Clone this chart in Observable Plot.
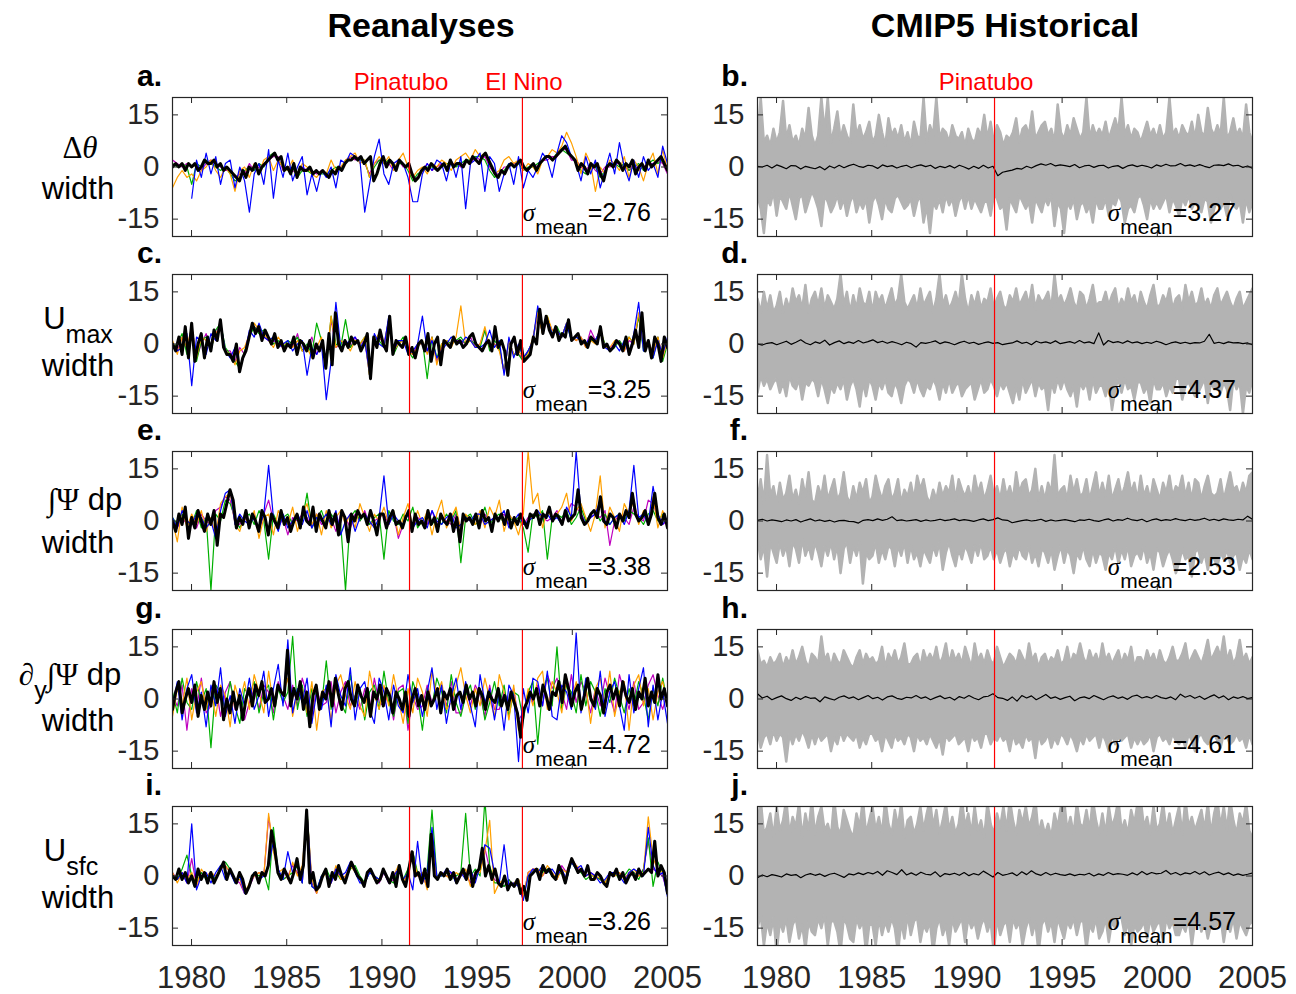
<!DOCTYPE html>
<html><head><meta charset="utf-8">
<script src="https://cdn.jsdelivr.net/npm/d3@7"></script>
<script src="https://cdn.jsdelivr.net/npm/@observablehq/plot@0.6"></script>
<style>
body{margin:0;background:#fff;font-family:"Liberation Sans",Arial,sans-serif;}
#fig{position:relative;width:1296px;height:994px;overflow:hidden;background:#fff;}
.t{position:absolute;white-space:nowrap;line-height:1;}
.serif{font-family:"Liberation Serif","DejaVu Serif",serif;}
</style></head><body><div id="fig"></div>
<script>
const YEAR0 = 1979, YEAR1 = 2005;
const xTicks = [1980,1985,1990,1995,2000,2005];
const yTicks = [-15,0,15];
const eventNamesLeft = ["Pinatubo","El Nino"];
const eventYearsLeft = [1991.45, 1997.38];
const eventNamesRight = ["Pinatubo"];
const eventYearsRight = [1991.45];
const titles = ["Reanalyses","CMIP5 Historical"];
const lettersLeft = ["a.","c.","e.","g.","i."];
const lettersRight = ["b.","d.","f.","h.","j."];
const sigmaLeft = ["2.76","3.25","3.38","4.72","3.26"];
const sigmaRight = ["3.27","4.37","2.53","4.61","4.57"];

// ---- Reanalyses (left) : black mean, 6 values / year ----
const aBlack = [0,1,0,1,-1,1, 0,1,-1,0,2,1, 1,2,0,1,-1,0, -1,-2,-3,-4,-1,-3, 0,-1,1,-2,0,1, 2,3,4,2,3,-1, 0,-2,1,-3,0,-1, -1,0,-2,-1,-2,-1, -2,-3,-1,-2,0,-1, 1,2,2,3,2,3, 1,2,3,-4,-2,1, 3,0,2,1,-1,2, 1,0,1,-2,-4,-3, -1,0,-1,1,0,-1, 0,1,-1,2,0,1, 1,0,2,1,3,2, 1,3,4,2,0,-2, -3,-1,-2,0,1,0, 1,2,0,-1,0,1, -1,1,2,3,3,2, 3,4,5,6,4,3, 2,-1,1,0,-2,1, 0,1,-2,-4,0,1, 0,2,1,-1,1,0, 2,-2,0,1,-1,2, 0,1,2,3,1,-1];
// colored reanalyses, 4 values / year
const aBlue = [null,null,null,null, -9,2,-3,4, -2,3,-5,1, 2,-6,0,-4, -13,-2,1,-5, 5,-9,2,-3, 4,-4,0,3, -8,-2,-7,-1, -3,0,-6,2, 1,4,3,2, -13,-5,3,8, -2,-5,1,2, 1,-3,-10,-10, -2,1,-1,2, 1,-4,2,-3, 3,-12,1,2, 4,-7,3,1, -7,-2,1,-5, 3,-6,-1,-3, 0,4,2,-3, 4,9,7,3, 1,-4,3,-2, 2,-6,-1,4, -2,7,0,-4, 2,-3,3,-1, 1,-3,6,1];
const aOrange = [-6,-3,-1,-3, -2,-4,-1,0, 2,-1,-3,0, -2,-7,-1,0, -3,1,-2,2, 3,-1,2,0, -1,2,-3,1, 0,-2,-3,-1, -2,2,-1,0, 2,3,4,1, 2,-3,1,3, 1,3,-1,2, 4,0,-3,-1, 0,-2,1,0, 2,1,-1,2, 3,4,2,5, 3,4,1,-2, -1,2,3,1, 2,-1,1,0, -2,2,3,5, 4,6,10,7, 3,-2,4,1, -7,0,-2,2, 1,-1,3,-3, 2,0,-4,1, 4,-2,5,-1];
const aGreen = [1,0,1,0, -5,1,0,2, 1,0,-1,0, -2,-4,-3,-1, 0,-1,1,0, 3,4,2,0, -1,0,-3,-1, -1,-2,-1,-2, -2,-1,0,-1, 2,2,3,2, 2,-3,0,2, 1,2,0,1, 1,-1,-4,-2, -1,0,0,-1, 0,1,1,0, 1,2,2,3, 3,2,-1,-3, -2,-1,1,0, 1,-1,0,0, 1,2,3,2, 4,5,4,3, 1,-1,-2,0, 0,-3,-1,1, 1,0,1,-1, 0,1,-1,1, 2,1,2,-1];
const aMagenta = [2,1,0,1, 0,1,-1,1, 2,1,0,-1, -1,-3,-2,-2, 1,-1,0,1, 2,3,3,-1, 0,-1,-2,0, -1,-1,-2,-1, -2,-2,-1,0, 1,3,2,3, 1,-2,1,2, 2,1,-1,2, 0,0,-3,-3, -1,1,-1,0, 1,0,1,1, 0,2,1,3, 2,3,0,-2, -2,0,0,1, 1,0,-1,1, 0,2,2,3, 3,5,5,2, 2,0,-1,1, -1,-2,0,0, 1,1,0,-1, 1,-1,0,1, 1,2,1,-2];

const cBlack = [0,-2,2,-3,5,-4, 6,-5,0,3,-4,2, -2,4,1,7,-1,-3, -3,-5,0,-8,-4,-2, 2,6,3,5,1,4, 2,0,3,-1,1,-2, 0,-1,2,-3,1,0, -2,1,-4,0,-2,1, -7,3,-6,9,0,-2, 1,-1,2,0,1,-2, 0,3,-10,2,-1,4, 0,-2,8,-3,1,0, -1,2,-3,-1,-4,0, 1,-2,3,-5,0,2, -6,1,0,-1,2,0, 1,-1,0,2,3,0, -1,-2,0,1,-2,5, -1,1,-2,-9,0,2, -3,1,-5,-4,-3,2, 0,10,3,8,4,2, 5,1,3,2,7,1, 2,3,0,1,-1,2, 1,0,5,-1,0,-2, -1,1,0,-2,2,-3, 0,4,-1,9,-2,1, -4,2,0,-5,2,-1];
const cBlue = [0,-2,-1,3, -12,2,1,-3, 3,1,6,-2, -4,-1,-7,-3, 4,2,6,2, 1,2,-1,0, 1,-2,0,1, -9,-1,-3,0, -16,-5,12,-1, 0,1,2,-1, 1,-8,3,0, -1,8,-2,1, 1,-3,-2,0, 8,-2,1,-4, -2,0,2,1, 0,2,1,-1, -1,0,4,-1, 1,-9,2,-4, 0,-4,-2,1, 11,4,7,3, 4,2,6,1, 2,1,0,2, 1,4,-1,-2, 0,-2,1,-3, 3,12,-2,0, -4,1,-3,2];
const cOrange = [1,-3,2,-1, 5,-4,2,1, -1,3,5,-2, -3,-6,-2,-1, 3,6,4,3, 1,-1,2,0, 0,-1,1,-2, -1,-4,-1,2, -6,8,-1,1, 0,-2,1,0, 2,-9,1,3, -1,7,-2,0, 1,-2,-3,-1, 1,-3,2,-6, 0,1,-1,2, 11,0,1,-1, 0,5,-1,0, -2,-8,1,-3, -2,-4,-3,2, 9,3,8,4, 4,2,6,2, 1,2,-1,1, 0,5,-1,-1, 1,0,-2,2, 0,9,-1,1, -3,2,-4,1];
const cGreen = [-1,0,3,-3, 4,-5,1,2, -2,4,6,-1, -3,-5,-7,-2, 2,5,3,4, 2,0,1,-1, 1,0,2,-2, 0,-3,6,1, -7,8,0,-1, 7,-1,1,0, 2,-9,2,1, -1,7,-3,0, 2,-2,-4,-1, 1,-10,2,-4, 0,1,0,1, 2,0,1,0, -1,4,-2,1, -1,-8,1,-3, -3,-5,-2,1, 10,3,8,3, 5,2,6,1, 2,1,0,1, 1,4,0,-2, -1,1,-1,2, 0,8,-2,1, -4,2,-5,0];
const cMagenta = [0,-2,2,-2, 5,-4,0,3, -1,3,6,-2, -2,-5,-1,-3, 3,5,4,2, 1,1,0,-1, 0,-1,3,-2, -1,2,-3,0, -6,7,-1,0, 1,-1,2,0, 1,-9,1,2, 0,7,-2,1, 1,-2,-3,0, 0,-2,2,-5, -1,1,0,1, 1,0,2,-1, 0,4,-1,0, -1,-8,1,-3, -3,-4,-2,1, 9,3,7,4, 4,2,6,2, 1,2,-1,4, 1,4,-1,-1, 0,1,-2,1, 0,8,-1,1, -3,2,-4,1];

const eBlack = [0,-3,2,-1,4,-5, 1,-2,3,0,-3,2, -1,3,-7,2,1,5, 9,6,-2,1,-1,3, -2,2,0,-3,3,1, -4,2,0,-2,3,-1, 1,-3,0,2,-2,4, 0,-1,4,-3,2,0, -2,3,-1,2,-4,3, 1,-6,2,0,3,1, 2,-1,3,0,-4,2, 2,-2,1,3,-1,0, -2,1,3,-3,2,-1, 0,-2,3,-1,1,-3, 2,0,-1,2,-3,1, -6,2,0,1,-1,2, -2,3,0,1,-3,2, 0,2,-1,3,-2,1, -1,2,0,-2,2,1, 3,-1,2,1,4,0, 2,1,-1,3,0,1, 2,9,1,-1,0,2, 3,1,7,0,-1,2, 1,-2,2,0,3,1, 8,2,0,1,3,-1, 2,8,1,-1,2,-2];
const eBlue = [1,-2,3,0, -1,2,1,-2, 0,-5,3,8, 9,-1,2,0, -1,1,-2,2, 16,1,-3,2, -2,0,2,-1, 3,-2,1,0, 2,-1,3,-4, 0,2,-3,1, 2,0,-2,1, 13,-1,2,0, -1,2,-2,0, 1,-2,3,0, -1,1,2,-2, -1,1,0,2, 2,-1,0,1, 1,3,-2,0, 2,-1,0,1, 3,1,2,0, 1,-1,4,1, 20,2,-1,1, 2,6,0,-1, 1,2,-1,3, 16,1,2,-1, 10,2,-1,1];
const eOrange = [0,-6,4,-2, 2,-1,3,-3, 1,-4,5,7, 8,-1,-3,2, -2,3,-5,1, 2,-4,3,0, -1,4,-3,2, 5,-1,2,-4, 3,-2,1,3, -1,2,-2,5, 1,-3,2,0, 4,-1,3,-4, 1,5,-2,3, -1,3,-4,2, 6,-2,1,4, -3,2,0,-1, 3,-2,4,1, 6,-3,2,0, -4,2,20,5, 8,-2,3,1, 2,4,8,0, 3,5,1,-3, 2,13,-2,4, 1,-3,5,2, 6,-1,3,0, 7,-2,3,-1];
const eGreen = [1,-1,2,0, -1,3,-2,1, -20,2,0,6, 5,1,-2,1, 2,-1,3,0, -11,2,-1,1, 2,-1,1,0, 8,-2,1,3, -1,2,0,-1, -20,1,3,0, 2,-1,1,2, -11,3,0,-1, 2,0,4,-2, 0,2,-1,1, -1,2,0,3, -12,1,2,-1, 0,4,-1,1, 2,-1,1,0, 1,-2,-9,2, 1,3,-11,1, 2,1,3,-1, 1,4,0,2, 3,0,2,-1, 1,2,0,3, 2,1,-1,2, 3,0,2,-1];
const eMagenta = [0,-2,1,-1, 1,-2,2,0, -1,3,4,7, 6,0,-1,1, -1,2,-3,2, 6,0,-2,1, -4,1,0,2, 1,-2,2,-1, 0,1,-3,2, 1,-2,2,0, 3,-1,0,1, 2,-1,2,-5, -1,2,-2,1, 0,-1,3,-1, 1,0,-1,2, -2,1,0,1, -1,2,0,1, 1,2,-1,0, 0,-1,1,2, 2,1,0,1, 3,-1,2,5, 4,2,0,1, 2,1,3,-7, 0,2,1,-1, 4,1,0,6, 5,1,-1,0];

const gBlack = [-3,2,5,-4,0,3, -1,4,-5,1,-3,2, -2,5,-1,3,-6,0, -4,2,-3,1,-6,0, 3,-2,4,1,5,-1, 0,3,-2,4,2,1, 14,-2,3,0,5,-3, 2,-8,1,4,-3,2, 0,5,-2,6,1,-3, 3,5,0,-2,4,1, -1,3,-5,2,0,4, -2,3,1,-4,2,0, -3,2,-5,0,3,-2, 1,-3,2,-2,0,3, -4,2,0,3,-3,1, 2,-1,4,0,2,-2, 3,1,-3,2,0,-1, 3,-2,1,-3,2,-1, -4,-11,-3,-1,2,0, 3,-2,4,1,-3,2, 1,5,-1,7,3,-2, 2,4,-3,1,6,0, -2,3,1,-4,2,4, 0,3,-2,5,1,-1, 3,-3,2,0,6,-2, 2,-1,7,0,3,-2];
const gBlue = [-2,5,-6,3, 7,-4,2,-8, 4,-2,9,-5, 1,-7,3,-2, 6,-3,1,8, -5,3,10,-2, 17,-4,3,-1, 6,-7,2,-3, 4,-8,7,1, -2,9,-6,3, 5,-3,-7,6, 2,-6,4,-2, -4,7,-1,3, -5,2,9,-3, 4,-7,1,6, -3,5,-2,-8, 7,-1,3,-6, 2,-9,4,1, -18,3,-4,6, 5,-2,8,-5, -6,4,2,-3, 19,-4,6,1, -3,8,-5,2, 5,-2,-9,7, -4,3,9,-8, 4,-6,2,-7];
const gOrange = [-5,3,-2,6, -6,2,5,-3, 3,-5,4,1, -8,4,-1,5, -3,7,2,-4, 8,-2,4,1, 6,-5,2,3, -4,5,-9,2, 3,-6,4,7, 1,-3,5,-2, -5,8,1,-3, 4,-2,7,0, -7,3,-4,6, 2,-5,8,1, 5,-3,-1,4, 9,1,-4,3, -2,6,0,-5, 7,2,-6,4, -9,-5,3,-2, 6,8,-3,5, 2,-4,6,-1, 5,-3,4,-7, 3,6,-2,8, -5,2,5,-9, 4,7,-2,3, -6,2,5,-1];
const gGreen = [2,-4,6,-1, -3,5,-1,3, -14,4,2,-3, 5,-2,-7,3, 1,5,-4,2, 4,-6,3,-1, 2,18,-3,4, -5,3,1,-2, 11,-3,5,-1, -4,7,-2,3, -6,2,4,-3, 8,-1,-5,2, 3,-7,5,1, -9,3,-2,6, 2,-4,7,-1, -5,1,4,-3, 3,-6,-1,5, -2,4,-5,2, 1,-6,2,5, -13,3,6,-2, 15,-3,4,2, -4,7,-2,5, 2,-5,3,-1, 6,1,-4,3, -2,5,1,-6, 3,-2,6,-1];
const gMagenta = [1,-2,4,-9, 3,-3,6,-4, -2,4,-5,2, 5,-3,1,-6, -1,3,-3,4, 2,-4,5,1, -3,4,-2,6, 1,-5,3,-2, -1,5,-4,2, 5,-2,1,-3, 3,-4,6,-1, -2,2,-6,3, 4,-9,1,-3, -2,4,-1,3, 3,-2,5,-4, -4,3,-2,4, 1,-5,4,-3, -3,2,-1,3, -6,-4,2,-1, 4,-2,7,3, 6,2,-3,7, -1,5,2,-4, 3,-2,6,1, -4,7,2,-3, 5,-3,-1,4, 7,1,-3,2];

const iBlack = [0,-1,2,-1,1,-2, 0,-3,2,-1,1,-2, 1,-2,0,2,4,-1, 2,0,-2,1,-1,-5, -3,0,1,-2,1,0, 3,13,8,1,-1,2, 0,-2,1,5,-1,3, 19,-2,1,-4,-3,0, 2,-3,1,-1,3,0, -2,1,4,2,0,-1, -3,1,2,0,-2,-1, 2,0,-2,1,-3,3, -1,-3,2,7,0,1, -2,2,-3,12,0,-1, 1,0,2,-1,1,-2, 0,2,-1,3,-3,1, 2,8,0,3,-1,2, -2,-3,0,-4,-2,-3, -1,-5,-3,-7,0,1, 2,-1,3,1,2,0, -1,3,1,-2,2,5, 3,1,2,0,3,-1, -1,1,0,-2,-3,1, 0,2,-1,1,-2,0, 1,-1,2,0,1,2, 1,10,0,3,1,-5];
const iBlue = [0,-1,1,-2, 15,-4,0,1, -2,1,3,-1, 1,-2,0,-5, -3,1,-1,0, 3,10,2,-1, 7,1,4,-2, 18,-3,-4,0, 1,-2,2,0, 1,4,1,-2, -2,1,0,-1, 1,-2,0,2, -1,1,-4,10, -2,1,14,0, 0,2,1,-2, 1,-1,2,-2, 3,9,8,1, -2,9,-3,-2, -3,-7,0,2, 1,3,1,2, 0,2,-1,4, 2,3,0,1, 0,-2,-1,1, 1,0,-2,1, 2,1,0,14, 3,0,1,-6];
const iOrange = [1,-2,1,-1, 1,-3,2,0, 1,0,2,3, 1,-1,-1,-5, -2,0,1,0, 18,7,1,2, -1,4,0,3, 18,-1,-5,-1, 1,-2,3,-1, 0,3,1,-1, -2,2,-1,-1, 1,-2,0,3, -2,1,6,0, 1,-4,11,-1, 1,0,-1,1, 0,2,-3,1, 1,7,16,-5, -2,-1,-3,-2, -1,-6,1,2, 2,0,3,1, -1,2,1,5, 3,2,0,1, -1,0,-2,1, 0,1,-1,1, 2,0,1,17, 5,2,1,-5];
const iGreen = [0,-1,2,6, 0,-2,1,-1, 1,-1,3,4, 2,-2,0,-4, -3,1,0,1, -4,14,1,-1, 0,1,3,-2, 19,-3,-4,0, 2,-1,1,-1, -1,2,3,0, -2,1,0,-1, 1,-1,-2,2, -1,2,7,1, 0,2,19,0, 0,1,-1,0, 1,18,0,2, 0,22,3,-2, -2,-3,-1,-3, -1,-6,0,1, 2,1,2,0, 0,1,-1,4, 2,1,-1,0, 0,-1,-2,1, 1,-1,0,2, 1,-1,2,11, -3,4,1,-4];
const iMagenta = [1,-1,1,-2, 5,-3,1,0, 1,-1,2,3, 1,-1,-2,-5, -3,0,1,0, 17,8,1,-1, 0,3,1,-2, 18,-2,-5,0, 1,-2,2,-1, 0,3,2,-1, -2,1,0,-2, 1,-2,-1,2, -1,1,7,0, 0,-3,12,-1, 1,0,1,-1, 0,1,-2,1, 2,8,2,-1, -2,-3,-1,-3, -1,-6,1,2, 2,0,2,1, -1,3,1,5, 3,1,0,1, 0,-1,-2,1, 0,1,-1,1, 1,0,2,10, 2,1,0,-5];

// ---- CMIP5 (right): model spread upper / lower edge (6 / year), multi-model mean (4 / year) ----
const bHi = [8,20,7,9,6,11, 7,10,19,8,12,7, 9,6,11,8,17,9, 6,9,20,10,20,7, 11,16,8,12,9,7, 18,9,12,8,10,13, 7,9,15,10,6,14, 9,11,8,12,7,10, 6,13,9,8,20,7, 12,9,20,8,11,10, 7,12,9,8,10,6, 11,8,7,11,9,15, 8,13,7,12,10,6, 9,8,10,14,7,11, 12,9,16,8,10,12, 13,9,11,7,18,10, 8,12,9,14,11,8, 10,20,8,12,9,11, 9,13,8,11,14,10, 20,9,12,8,11,10, 7,10,13,9,11,8, 12,8,10,20,9,11, 8,12,10,9,13,8, 15,10,9,17,11,9, 12,9,20,8,10,14, 9,11,8,18,10,7];
const bLo = [-8,-12,-19,-9,-11,-7, -14,-8,-10,-12,-7,-11, -15,-9,-8,-13,-10,-7, -9,-12,-17,-8,-10,-13, -11,-8,-12,-9,-14,-10, -8,-13,-10,-12,-9,-16, -10,-8,-11,-15,-9,-12, -13,-9,-8,-10,-12,-11, -9,-14,-10,-8,-16,-11, -19,-10,-12,-9,-13,-8, -11,-9,-14,-10,-8,-12, -8,-12,-9,-11,-13,-10, -10,-14,-8,-9,-12,-11, -18,-9,-11,-13,-8,-10, -12,-10,-16,-9,-11,-13, -9,-11,-8,-17,-10,-12, -19,-10,-12,-9,-15,-11, -10,-13,-11,-16,-9,-12, -12,-9,-14,-10,-11,-8, -10,-16,-12,-11,-13,-9, -8,-11,-15,-9,-12,-10, -12,-10,-8,-13,-9,-11, -14,-9,-11,-8,-12,-10, -11,-13,-9,-10,-16,-12, -9,-12,-10,-14,-8,-11, -12,-10,-16,-9,-13,-10];
const bMean = [0.2,0,0.5,-0.3, 0.6,0.1,-0.5,0.4, 0.3,-0.6,0.2,-0.2, -0.5,0.1,-0.8,0.3, -0.3,0.5,-0.2,0.4, 0.8,0.2,-0.1,0.5, 0.3,-0.4,0.6,0.1, 0.4,-0.3,0.2,0.5, -0.2,0.3,0.6,0.1, 0.5,-0.4,0.2,-0.2, 0.4,-0.3,0.5,0, -0.6,0.2,-0.4,0.5, -0.3,0.2,-2.5,-1.5, -1.2,-0.9,-0.4,-0.6, 0.2,-0.3,0.4,0.9, 0.5,1,0.3,0.6, 0.4,0.1,0.7,-0.2, 0.3,0.5,-0.1,0.4, 0.5,-0.3,0.2,0.4, -0.4,0.3,0.6,0.1, 0.5,0.2,-0.3,0.6, 0.2,0.8,0.3,0.4, 1,0.3,0.6,0.2, 0.7,0.2,-0.2,0.5, 0.6,0.4,0.9,0.3, 0.5,-0.1,0.3,-0.4];

const dHi = [13,9,15,10,14,9, 11,15,9,13,10,16, 12,14,10,17,9,13, 15,11,16,10,14,12, 10,13,20,11,15,9, 14,10,16,12,11,15, 9,15,12,14,10,13, 16,11,13,20,12,10, 12,14,10,16,11,13, 15,9,13,20,11,14, 10,12,15,11,20,13, 9,14,11,15,10,13, 12,16,10,13,15,11, 10,14,12,16,11,13, 15,11,17,10,14,12, 13,15,10,20,12,14, 11,13,16,12,10,15, 14,10,13,17,11,12, 12,15,11,14,16,10, 13,11,16,12,14,10, 15,12,10,14,17,11, 11,14,12,16,10,13, 14,10,17,12,15,11, 12,16,11,13,10,14, 16,11,13,15,12,10, 13,15,10,12,14,16];
const dLo = [-14,-9,-12,-10,-13,-11, -10,-14,-11,-15,-9,-12, -13,-10,-16,-11,-12,-10, -11,-15,-10,-13,-17,-12, -14,-11,-13,-10,-16,-12, -10,-13,-18,-11,-15,-10, -12,-16,-11,-13,-10,-14, -15,-11,-13,-17,-12,-10, -11,-14,-10,-13,-15,-12, -13,-10,-12,-16,-11,-14, -10,-14,-12,-11,-15,-13, -12,-11,-16,-13,-10,-14, -13,-10,-12,-15,-11,-13, -11,-14,-17,-12,-16,-10, -14,-12,-10,-15,-11,-13, -12,-19,-11,-14,-10,-13, -10,-13,-15,-12,-18,-11, -13,-11,-16,-10,-14,-12, -12,-15,-11,-19,-13,-10, -14,-10,-13,-12,-16,-11, -11,-14,-12,-17,-10,-13, -13,-11,-15,-12,-14,-10, -10,-16,-12,-11,-13,-15, -14,-12,-10,-17,-11,-13, -12,-14,-11,-13,-19,-10, -13,-11,-20,-12,-14,-10];
const dMean = [0,-0.3,0.2,0.4, -0.2,0.3,0.8,-0.1, 0.5,1.2,0.3,-0.2, 0.6,0.2,1.1,-0.3, 0.4,0.9,0.1,0.6, 0.2,1,0.3,0.7, 1.2,0.4,0.8,0.2, 0.7,0.3,-0.2,0.5, 0.1,-0.9,0.4,0.2, 0.5,0.9,0.1,0.6, 0.3,-0.2,0.4,0.8, 0.2,0.5,-0.1,0.3, 0.6,0.2,0.4,-0.2, 0.1,0.3,0.9,0.2, 0.5,-0.2,0.8,0.3, 0.6,0.2,0.9,0.1, 0.4,0.7,0.2,1, 0.3,0.6,0.1,3.2, -0.3,1,0.4,0.7, 0.2,0.9,0.3,0.6, 0.1,0.5,0.2,0.8, 0.4,-0.2,0.3,0.6, 0.2,0.5,0.1,0.4, 0.3,0.8,2.8,0.2, 0.5,0.1,0.6,0.3, 0.4,0.1,0.3,-0.2];

const fHi = [6,12,5,19,7,10, 5,11,6,8,13,6, 9,5,12,7,14,6, 5,10,7,13,6,9, 12,6,8,14,7,5, 10,6,11,8,12,5, 7,13,9,6,10,12, 6,8,12,5,9,7, 11,6,13,9,12,7, 5,9,6,11,7,10, 8,13,6,12,9,7, 10,6,13,8,11,6, 9,13,7,10,6,12, 7,10,6,14,8,11, 12,7,9,15,6,10, 6,11,8,19,7,9, 10,6,13,8,12,7, 8,12,6,10,14,7, 11,7,13,6,9,12, 7,10,14,8,11,6, 13,7,10,6,12,9, 6,11,8,13,7,10, 9,13,7,11,6,12, 11,6,10,13,8,7, 8,12,6,10,14,9, 10,7,11,8,13,14];
const fLo = [-5,-11,-7,-16,-6,-9, -12,-6,-10,-7,-13,-6, -8,-12,-5,-10,-7,-11, -6,-9,-13,-7,-10,-6, -11,-7,-15,-8,-6,-12, -7,-10,-6,-18,-9,-11, -10,-6,-12,-8,-11,-7, -8,-13,-7,-10,-6,-12, -7,-11,-9,-13,-8,-10, -12,-7,-10,-6,-14,-9, -6,-10,-13,-8,-11,-7, -9,-12,-7,-10,-6,-11, -10,-7,-11,-8,-12,-9, -8,-13,-9,-11,-7,-10, -11,-7,-12,-9,-13,-8, -9,-12,-8,-14,-10,-7, -12,-8,-10,-15,-9,-11, -7,-11,-13,-8,-12,-9, -10,-14,-9,-11,-7,-12, -8,-11,-7,-13,-10,-9, -11,-7,-12,-9,-14,-8, -9,-13,-10,-8,-11,-15, -12,-8,-11,-10,-16,-9, -8,-12,-9,-14,-10,-11, -13,-9,-11,-8,-12,-10, -9,-14,-10,-12,-8,-11];
const fMean = [0.2,0.5,0,0.3, 0.1,-0.2,0.3,0, 0.4,-0.3,0.2,0.6, 0,0.3,-0.1,0.2, -0.3,0.1,0.2,-0.1, -0.2,-0.6,0.2,0.4, 0.1,0.6,0.2,0.5, 1.2,0.1,0.3,0, 0.2,0.4,-0.1,0.3, 0,0.2,0.5,0.1, 0.3,0.6,0.1,0.4, 0.2,-0.1,0.3,0.6, 0.1,0.4,0.9,0.3, 0.2,-0.5,-0.2,0.1, 0.3,0,0.2,0.5, -0.1,0.3,0,0.2, 0.4,0.1,-0.2,0.3, 0.2,0.5,0.1,-0.1, 0.3,0.6,0,0.4, 0.2,0.8,0.3,0.1, 0.5,-0.2,0.3,0.6, 0.1,0.4,0.2,0.7, 0.3,0.1,0.5,0.2, 0.4,0.8,0.2,0.5, 0.1,0.6,0.3,0.2, 0.5,0.3,1.4,0.5];

const hHi = [14,10,11,9,12,10, 11,13,9,12,10,14, 10,12,15,11,9,13, 12,10,18,11,13,9, 13,11,10,14,12,10, 9,12,14,10,13,11, 12,10,11,15,9,13, 11,14,10,12,16,10, 10,12,13,9,14,11, 13,11,15,10,12,16, 10,14,11,13,10,15, 12,9,16,11,13,10, 14,11,10,15,12,9, 11,13,12,10,14,12, 10,16,11,13,9,12, 13,10,12,11,14,10, 11,15,10,13,12,16, 12,10,14,11,13,10, 16,11,13,10,12,14, 10,13,11,15,9,12, 12,10,14,11,13,10, 14,11,10,12,15,11, 11,13,16,10,12,14, 12,10,13,17,11,13, 15,12,18,11,14,10, 12,17,11,13,10,12];
const hLo = [-9,-14,-11,-10,-13,-9, -12,-10,-11,-18,-10,-13, -10,-12,-9,-11,-14,-10, -13,-10,-12,-11,-10,-15, -11,-13,-9,-12,-10,-11, -12,-10,-14,-11,-13,-10, -10,-12,-11,-15,-10,-12, -14,-10,-12,-11,-13,-10, -11,-15,-10,-12,-11,-13, -10,-12,-14,-11,-16,-10, -12,-11,-10,-13,-12,-11, -15,-10,-12,-11,-14,-10, -10,-13,-11,-12,-10,-12, -11,-15,-10,-13,-12,-14, -10,-12,-11,-17,-10,-13, -12,-10,-14,-11,-13,-10, -11,-13,-10,-12,-15,-11, -13,-10,-12,-11,-10,-14, -10,-12,-15,-10,-13,-11, -12,-11,-10,-14,-11,-13, -11,-13,-12,-10,-15,-11, -10,-12,-11,-13,-10,-12, -13,-11,-14,-10,-12,-15, -11,-10,-12,-13,-11,-10, -12,-14,-10,-11,-13,-12, -10,-12,-11,-14,-10,-13];
const hMean = [1.5,0.3,0.8,-0.2, 0.4,0.9,0.1,-0.4, 0.5,-0.1,0.7,0.2, 0.3,-0.8,0.6,0.1, -0.3,0.5,0.9,0.2, 0.6,-0.2,0.4,1, 0.1,0.5,-0.3,0.6, 0.9,0.2,-0.1,0.5, 0.3,1,0.2,0.6, -0.2,0.4,0.9,0.1, 0.5,-0.3,0.7,0.2, 1,0.3,-0.2,0.6, 0.8,1.5,0.4,0.2, -0.4,0.6,-0.6,1, 0.3,0.9,-0.2,0.5, 1.3,0.2,0.6,-0.1, 0.4,0.8,-0.5,0.3, 0.6,0.1,1,0.4, -0.2,0.5,0.9,0.2, 0.6,-0.1,0.8,1.1, 0.3,0.7,0.2,1, 0.4,0.1,0.6,-0.2, 1.4,0.5,1,0.2, 0.8,-0.1,0.6,1.2, 0.3,0.9,-0.2,0.6, 0.2,0.7,0.1,0.4];

const jHi = [15,22,12,14,18,11, 20,13,16,22,12,17, 14,21,11,18,13,22, 12,17,20,13,15,11, 22,14,12,19,16,13, 11,18,14,22,12,16, 20,13,17,12,22,15, 12,19,14,21,11,16, 17,12,15,20,13,18, 22,14,19,12,16,21, 13,17,12,15,22,14, 18,12,20,13,16,11, 21,15,12,18,14,20, 13,22,16,12,19,15, 20,14,17,22,12,16, 12,15,11,18,14,20, 22,13,17,12,21,15, 14,19,13,22,16,12, 18,12,20,14,17,22, 13,16,12,19,15,21, 22,14,17,12,20,13, 15,21,13,18,12,16, 20,12,22,14,17,13, 16,19,13,21,12,18, 22,14,20,13,22,16, 12,18,15,21,13,11];
const jLo = [-15,-11,-20,-13,-17,-12, -22,-13,-16,-12,-19,-14, -12,-18,-14,-21,-13,-16, -17,-12,-15,-11,-20,-13, -13,-16,-22,-12,-14,-18, -19,-12,-15,-13,-22,-14, -14,-20,-12,-17,-13,-16, -12,-15,-22,-13,-18,-11, -17,-13,-12,-19,-14,-16, -13,-22,-15,-12,-17,-14, -20,-12,-16,-14,-12,-19, -12,-15,-13,-18,-14,-12, -16,-13,-22,-12,-17,-14, -13,-19,-12,-15,-13,-20, -15,-12,-17,-13,-22,-14, -12,-16,-13,-19,-12,-15, -18,-13,-15,-12,-17,-13, -13,-21,-14,-16,-12,-18, -16,-12,-19,-13,-15,-12, -12,-17,-13,-20,-14,-16, -15,-13,-18,-12,-16,-14, -13,-19,-12,-15,-13,-17, -17,-14,-16,-12,-20,-13, -12,-16,-13,-18,-14,-15, -14,-12,-19,-13,-16,-12, -18,-13,-15,-17,-14,-13];
const jMean = [-0.5,0.3,-0.2,0.4, 0.1,-0.3,0.6,0.2, 0.4,-0.5,0.3,0.7, 0.2,0.6,-0.1,0.5, 0.8,0.2,-0.4,0.6, 0.3,0.9,0.4,1, 0.6,1.3,0.2,1.5, 1,0.4,1.8,0.3, 0.9,0.2,1.1,0.5, 0.3,1.2,-0.2,0.7, 0.4,0.8,0.2,1, 0.1,0.7,0.3,1.4, 0.6,-0.3,1,0.2, 0.5,0.9,0.1,1.2, 0.4,1.5,0.6,0.2, 1,0.3,0.8,0.4, 0.2,0.6,0.1,0.5, 0.3,0.8,0,0.6, 0.2,1,0.4,0.7, 0.5,0.2,0.9,0.3, 1.3,0.4,1,0.6, 0.8,1.6,0.5,1, 0.3,0.9,0.6,1.3, 0.5,1.2,0.3,0.8, 1.1,0.4,0.9,0.2, 0.6,0.2,0.5,0.9];

// ---------- styling / layout ----------
const COL = {magenta:"#bf00bf", green:"#00b000", orange:"#ffa000", blue:"#0000ff", black:"#000000", grey:"#b3b3b3", red:"#ff0000", axis:"#262626"};
const FW = 495, FH = 139;
const frameTops = [97, 274, 451, 629, 806];
const frameLeftL = 172, frameLeftR = 757;
const ML = 60, MR = 8, MT = 4;

const fig = document.getElementById("fig");
function addText(html, css) {
  const d = document.createElement("div");
  d.className = "t";
  d.innerHTML = html;
  Object.assign(d.style, css);
  fig.appendChild(d);
  return d;
}
function rows(arr) {
  const n = arr.length;
  return arr.map((v, i) => ({x: YEAR0 + i * (YEAR1 - YEAR0) / (n - 1), y: v}));
}
function bandRows(hi, lo) {
  const n = hi.length;
  return hi.map((v, i) => ({x: YEAR0 + i * (YEAR1 - YEAR0) / (n - 1), hi: v, lo: lo[i]}));
}

function panel({left, top, bottom, colored, black, blackWidth, band, events}) {
  const MB = bottom ? 47 : 4;
  const marks = [];
  if (band) {
    const br = bandRows(band[0], band[1]);
    marks.push(Plot.areaY(br, {x: "x", y1: "lo", y2: "hi", fill: COL.grey, clip: true}));
    marks.push(Plot.lineY(br, {x: "x", y: "hi", stroke: COL.grey, strokeWidth: 2.5, clip: true}));
    marks.push(Plot.lineY(br, {x: "x", y: "lo", stroke: COL.grey, strokeWidth: 2.5, clip: true}));
  }
  for (const [data, color] of colored) {
    marks.push(Plot.lineY(rows(data), {x: "x", y: "y", stroke: color, strokeWidth: 1.2, clip: true}));
  }
  marks.push(Plot.lineY(rows(black), {x: "x", y: "y", stroke: COL.black, strokeWidth: blackWidth, strokeLinejoin: "round", clip: true}));
  marks.push(Plot.ruleX(events, {x: d => d, stroke: COL.red, strokeWidth: 1.2}));
  marks.push(Plot.frame({stroke: COL.axis, strokeWidth: 1.2}));
  marks.push(Plot.tickY(yTicks, {y: d => d, stroke: COL.axis, insetRight: FW - 6}));
  marks.push(Plot.tickY(yTicks, {y: d => d, stroke: COL.axis, insetLeft: FW - 6}));
  marks.push(Plot.tickX(xTicks, {x: d => d, stroke: COL.axis, insetTop: FH - 6}));
  marks.push(Plot.tickX(xTicks, {x: d => d, stroke: COL.axis, insetBottom: FH - 6}));
  marks.push(Plot.axisY(yTicks, {tickSize: 0, tickPadding: 13, fontSize: 29, fill: COL.axis, tickFormat: d => String(d), label: null}));
  if (bottom) marks.push(Plot.axisX(xTicks, {tickSize: 0, tickPadding: 20, fontSize: 31, fill: COL.axis, tickFormat: d => String(d), label: null}));
  const svg = Plot.plot({
    width: ML + FW + MR, height: MT + FH + MB,
    marginLeft: ML, marginRight: MR, marginTop: MT, marginBottom: MB,
    x: {domain: [YEAR0, YEAR1], axis: null},
    y: {domain: [-20, 20], axis: null},
    style: {fontFamily: "'Liberation Sans', Arial, sans-serif", background: "transparent", overflow: "visible", color: COL.axis},
    marks
  });
  svg.style.position = "absolute";
  svg.style.left = (left - ML) + "px";
  svg.style.top = (top - MT) + "px";
  fig.appendChild(svg);
}

const leftBlack = [aBlack, cBlack, eBlack, gBlack, iBlack];
const leftColored = [
  [[aMagenta, COL.magenta], [aGreen, COL.green], [aOrange, COL.orange], [aBlue, COL.blue]],
  [[cMagenta, COL.magenta], [cGreen, COL.green], [cOrange, COL.orange], [cBlue, COL.blue]],
  [[eMagenta, COL.magenta], [eGreen, COL.green], [eOrange, COL.orange], [eBlue, COL.blue]],
  [[gMagenta, COL.magenta], [gGreen, COL.green], [gOrange, COL.orange], [gBlue, COL.blue]],
  [[iMagenta, COL.magenta], [iGreen, COL.green], [iOrange, COL.orange], [iBlue, COL.blue]]
];
const rightBands = [[bHi, bLo], [dHi, dLo], [fHi, fLo], [hHi, hLo], [jHi, jLo]];
const rightMeans = [bMean, dMean, fMean, hMean, jMean];

for (let r = 0; r < 5; r++) {
  panel({left: frameLeftL, top: frameTops[r], bottom: r === 4, colored: leftColored[r], black: leftBlack[r], blackWidth: 3, events: eventYearsLeft});
  panel({left: frameLeftR, top: frameTops[r], bottom: r === 4, colored: [], black: rightMeans[r], blackWidth: 1.2, band: rightBands[r], events: eventYearsRight});
}

// titles
addText(titles[0], {left: "221px", width: "400px", textAlign: "center", top: "8px", fontSize: "34px", fontWeight: "bold", color: "#000"});
addText(titles[1], {left: "805px", width: "400px", textAlign: "center", top: "8px", fontSize: "34px", fontWeight: "bold", color: "#000"});

// panel letters
for (let r = 0; r < 5; r++) {
  addText(lettersLeft[r], {left: "62px", width: "100px", textAlign: "right", top: (frameTops[r] - 36) + "px", fontSize: "30px", fontWeight: "bold", color: "#000"});
  addText(lettersRight[r], {left: "648px", width: "100px", textAlign: "right", top: (frameTops[r] - 36) + "px", fontSize: "30px", fontWeight: "bold", color: "#000"});
}

// event labels
const xpx = (yr, fl) => fl + (yr - YEAR0) / (YEAR1 - YEAR0) * FW;
addText(eventNamesLeft[0], {left: (xpx(eventYearsLeft[0], frameLeftL) - 108) + "px", width: "200px", textAlign: "center", top: "70px", fontSize: "24px", color: COL.red});
addText(eventNamesLeft[1], {left: (xpx(eventYearsLeft[1], frameLeftL) - 98) + "px", width: "200px", textAlign: "center", top: "70px", fontSize: "24px", color: COL.red});
addText(eventNamesRight[0], {left: (xpx(eventYearsRight[0], frameLeftR) - 108) + "px", width: "200px", textAlign: "center", top: "70px", fontSize: "24px", color: COL.red});

// sigma labels
function sigma(val, frameLeft, top) {
  addText(`<span class="serif" style="font-style:italic">σ</span><span style="font-size:21px;position:relative;top:13px">mean</span>=${val}`,
    {left: (frameLeft + FW - 16 - 300) + "px", width: "300px", textAlign: "right", top: (top + FH - 36) + "px", fontSize: "25px", color: "#000"});
}
for (let r = 0; r < 5; r++) {
  sigma(sigmaLeft[r], frameLeftL, frameTops[r]);
  sigma(sigmaRight[r], frameLeftR, frameTops[r]);
}

// y labels (two lines)
const ylab1 = [
  `<span class="serif">Δ<i>θ</i></span>`,
  `U<span style="font-size:25px;position:relative;top:14px">max</span>`,
  `<span class="serif">∫Ψ</span> dp`,
  `<span class="serif">∂</span><span style="font-size:25px;position:relative;top:14px">y</span><span class="serif">∫Ψ</span> dp`,
  `U<span style="font-size:25px;position:relative;top:14px">sfc</span>`
];
const ylab1cx = [80, 78, 85, 70, 71];
const ylab1dy = [-35, -41, -37, -40, -41];
for (let r = 0; r < 5; r++) {
  const cy = frameTops[r] + FH / 2;
  addText(ylab1[r], {left: (ylab1cx[r] - 100) + "px", width: "200px", textAlign: "center", top: (cy + ylab1dy[r]) + "px", fontSize: "31px", color: "#000"});
  addText("width", {left: "-22px", width: "200px", textAlign: "center", top: (cy + 6) + "px", fontSize: "31px", color: "#000"});
}
</script></body></html>
